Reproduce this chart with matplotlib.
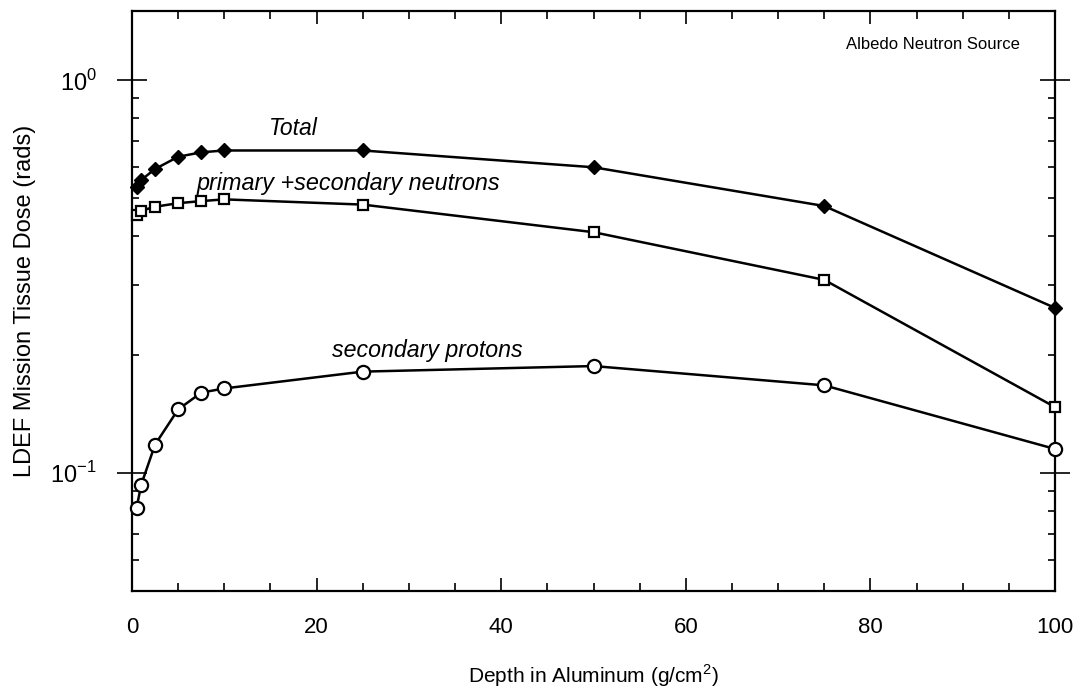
import matplotlib
matplotlib.use("Agg")
import matplotlib.pyplot as plt
from matplotlib.ticker import FixedLocator, LogLocator, NullFormatter, FixedFormatter

plt.rcParams['font.family'] = ['Liberation Sans', 'DejaVu Sans']
plt.rcParams['mathtext.fontset'] = 'custom'
plt.rcParams['mathtext.rm'] = 'Liberation Sans'

# Depth in aluminum shielding (g/cm^2)
depth = [0.5, 1, 2.5, 5, 7.5, 10, 25, 50, 75, 100]

# Mission tissue dose (rads) from the albedo neutron source
total = [0.535, 0.557, 0.594, 0.638, 0.655, 0.662, 0.662, 0.600, 0.478, 0.263]
neutrons = [0.454, 0.465, 0.476, 0.486, 0.492, 0.497, 0.482, 0.410, 0.310, 0.147]
protons = [0.0815, 0.0933, 0.118, 0.145, 0.160, 0.164, 0.181, 0.187, 0.167, 0.115]

x_major = [0, 20, 40, 60, 80, 100]
x_labels = ['0', '20', '40', '60', '80', '100']
y_major = [0.1, 1.0]
y_labels = [r'10$^{-1}$', r'10$^{0}$']

W, H = 1083, 691
fig = plt.figure(figsize=(W / 100, H / 100), dpi=100)
ax = fig.add_axes([132 / W, 1 - 591 / H, 923 / W, 580 / H])

lw = 1.8
ax.plot(depth, total, color='black', lw=lw, marker='D', ms=7,
        mfc='black', mec='black', mew=1.0, zorder=3, clip_on=False)
ax.plot(depth, neutrons, color='black', lw=lw, marker='s', ms=6.5,
        mfc='white', mec='black', mew=1.6, zorder=3, clip_on=False)
ax.plot(depth, protons, color='black', lw=lw, marker='o', ms=9.5,
        mfc='white', mec='black', mew=1.6, zorder=3, clip_on=False)

ax.set_yscale('log')
ax.set_xlim(0, 100)
ax.set_ylim(0.05, 1.5)

ax.xaxis.set_major_locator(FixedLocator(x_major))
ax.xaxis.set_major_formatter(FixedFormatter(x_labels))
ax.xaxis.set_minor_locator(FixedLocator([v for v in range(5, 100, 5) if v % 20]))
ax.yaxis.set_major_locator(FixedLocator(y_major))
ax.yaxis.set_major_formatter(FixedFormatter(y_labels))
ax.yaxis.set_minor_locator(LogLocator(base=10, subs=[2, 3, 4, 5, 6, 7, 8, 9]))
ax.yaxis.set_minor_formatter(NullFormatter())

for s in ax.spines.values():
    s.set_linewidth(1.6)

ax.tick_params(axis='x', which='major', direction='in', length=9.5, width=1.2,
               top=True, bottom=True, labelsize=16, pad=19)
ax.tick_params(axis='x', which='minor', direction='in', length=5.5, width=1.2,
               top=True, bottom=True)
ax.tick_params(axis='y', which='major', direction='inout', length=21, width=1.2,
               left=True, right=True, labelsize=17, pad=15)
ax.tick_params(axis='y', which='minor', direction='in', length=5, width=1.2,
               left=True, right=True)

ax.set_xlabel(r'Depth in Aluminum (g/cm$^{2}$)', fontsize=15, labelpad=17)
ax.set_ylabel('LDEF Mission Tissue Dose (rads)', fontsize=17, labelpad=10)

ax.text(0.962, 0.943, 'Albedo Neutron Source', transform=ax.transAxes,
        ha='right', va='center', fontsize=12)
ax.text(17.5, 0.755, 'Total', ha='center', va='center', fontsize=16.5, style='italic')
ax.text(23.4, 0.545, 'primary +secondary neutrons', ha='center', va='center',
        fontsize=16.8, style='italic')
ax.text(32.0, 0.205, 'secondary protons', ha='center', va='center',
        fontsize=16.7, style='italic')

fig.savefig('out.png', dpi=100)
